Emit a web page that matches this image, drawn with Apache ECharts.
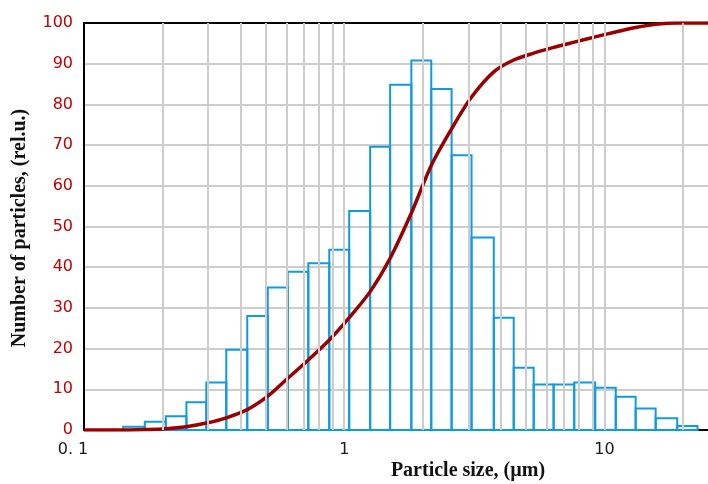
<!DOCTYPE html>
<html>
<head>
<meta charset="utf-8">
<script src="https://cdn.jsdelivr.net/npm/echarts@6/dist/echarts.min.js"></script>
<style>
html,body{margin:0;padding:0;background:#fff;}
#chart{width:708px;height:484px;}
</style>
</head>
<body>
<div id="chart"></div>
<script>
// bin edges (um)
var binEdges = [0.1414, 0.1713, 0.2062, 0.2475, 0.2952, 0.3522, 0.4240, 0.5083, 0.6065, 0.7279,
	0.8761, 1.045, 1.258, 1.501, 1.811, 2.160, 2.586, 3.085, 3.756, 4.480,
	5.346, 6.377, 7.654, 9.213, 11.05, 13.18, 15.73, 19.04, 22.78];
// histogram heights (rel.u.)
var binCounts = [0.8, 2.0, 3.4, 6.8, 11.7, 19.7, 28.0, 35.0, 38.9, 41.0,
	44.3, 53.8, 69.6, 84.8, 90.8, 83.8, 67.5, 47.3, 27.6, 15.3,
	11.2, 11.2, 11.7, 10.4, 8.2, 5.3, 2.9, 1.0];
// cumulative curve
var cumX = [0.1, 0.1414, 0.1713, 0.2062, 0.2475, 0.2952, 0.3522, 0.4240, 0.5083, 0.6065, 0.7279,
	0.8761, 1.045, 1.258, 1.501, 1.811, 2.160, 2.586, 3.085, 3.756, 4.480,
	5.346, 6.377, 7.654, 9.213, 11.05, 13.18, 15.73, 19.04, 22.78, 25];
var cumY = [0, 0, 0.1, 0.3, 0.8, 1.7, 3.0, 5.0, 8.3, 12.7, 17.2,
	22.1, 27.6, 34.0, 42.2, 53.3, 65.0, 74.0, 81.8, 88.0, 90.9,
	92.6, 94.0, 95.3, 96.6, 97.8, 98.9, 99.7, 100, 100, 100];
// vertical grid lines
var gridX = [0.2, 0.3, 0.4, 0.5, 0.6, 0.7, 0.8, 0.9, 1, 2, 3, 4, 5, 6, 7, 8, 9, 10, 20];
var xLabels = {'0.1': '{a|0. 1}', '1': '1', '10': '10'};

var dom = echarts.init(document.getElementById('chart'));

var bars = [];
for (var i = 0; i < binCounts.length; i++) {
	bars.push([binEdges[i], binEdges[i + 1], binCounts[i]]);
}
var curve = [];
for (var i = 0; i < cumX.length; i++) {
	curve.push([cumX[i], cumY[i]]);
}
var vLines = [];
for (var i = 0; i < gridX.length; i++) {
	vLines.push({xAxis: gridX[i]});
}

var option = {
	animation: false,
	grid: {left: 84, right: -2, top: 23, bottom: 54},
	xAxis: [{
		type: 'log', logBase: 10, min: 0.1, max: 25,
		axisLine: {show: true, lineStyle: {color: '#000', width: 2}},
		axisTick: {show: false},
		splitLine: {show: false},
		axisLabel: {
			color: '#1a1a1a', fontFamily: 'DejaVu Sans', fontSize: 16, margin: 12,
			showMaxLabel: false,
			rich: {a: {fontFamily: 'DejaVu Sans', fontSize: 16, color: '#1a1a1a', padding: [0, 22, 0, 0]}},
			formatter: function (v) {
				var k = String(Math.round(v * 10) / 10);
				return xLabels[k] !== undefined ? xLabels[k] : '';
			}
		}
	}, {
		type: 'log', logBase: 10, min: 0.1, max: 25, position: 'top',
		axisLine: {show: true, lineStyle: {color: '#000', width: 2}},
		axisTick: {show: false},
		axisLabel: {show: false},
		splitLine: {show: false}
	}],
	yAxis: {
		type: 'value', min: 0, max: 100, interval: 10,
		axisLine: {show: true, lineStyle: {color: '#000', width: 2}},
		axisTick: {show: false},
		splitLine: {lineStyle: {color: '#cdcdcd', width: 2}},
		axisLabel: {color: '#c00000', fontFamily: 'DejaVu Sans', fontSize: 16, margin: 11}
	},
	graphic: [
		{
			type: 'text', x: 20, y: 228, rotation: Math.PI / 2,
			style: {
				text: 'Number of particles, (rel.u.)', fill: '#111',
				font: 'bold 20px "Liberation Serif"', align: 'center', verticalAlign: 'middle'
			}
		},
		{
			type: 'text', x: 468, y: 471,
			style: {
				text: 'Particle size, (\u00b5m)', fill: '#111',
				font: 'bold 20px "Liberation Serif"', align: 'center', verticalAlign: 'middle'
			}
		}
	],
	series: [
		{
			type: 'line', data: [], z: 1, silent: true,
			markLine: {
				silent: true, symbol: 'none', animation: false,
				label: {show: false},
				lineStyle: {color: '#cdcdcd', type: 'solid', width: 2},
				data: vLines
			}
		},
		{
			type: 'custom', z: 2, silent: true,
			data: bars,
			encode: {x: [0, 1], y: 2},
			renderItem: function (params, api) {
				var p0 = api.coord([api.value(0), api.value(2)]);
				var p1 = api.coord([api.value(1), 0]);
				return {
					type: 'rect',
					shape: {x: p0[0], y: p0[1], width: p1[0] - p0[0], height: p1[1] - p0[1]},
					style: {fill: 'none', stroke: '#0e9be0', lineWidth: 2}
				};
			}
		},
		{
			type: 'line', z: 3, data: curve, showSymbol: false, silent: true,
			smooth: 0.3,
			lineStyle: {color: '#9a0000', width: 3.5}
		}
	]
};
dom.setOption(option);
</script>
</body>
</html>
